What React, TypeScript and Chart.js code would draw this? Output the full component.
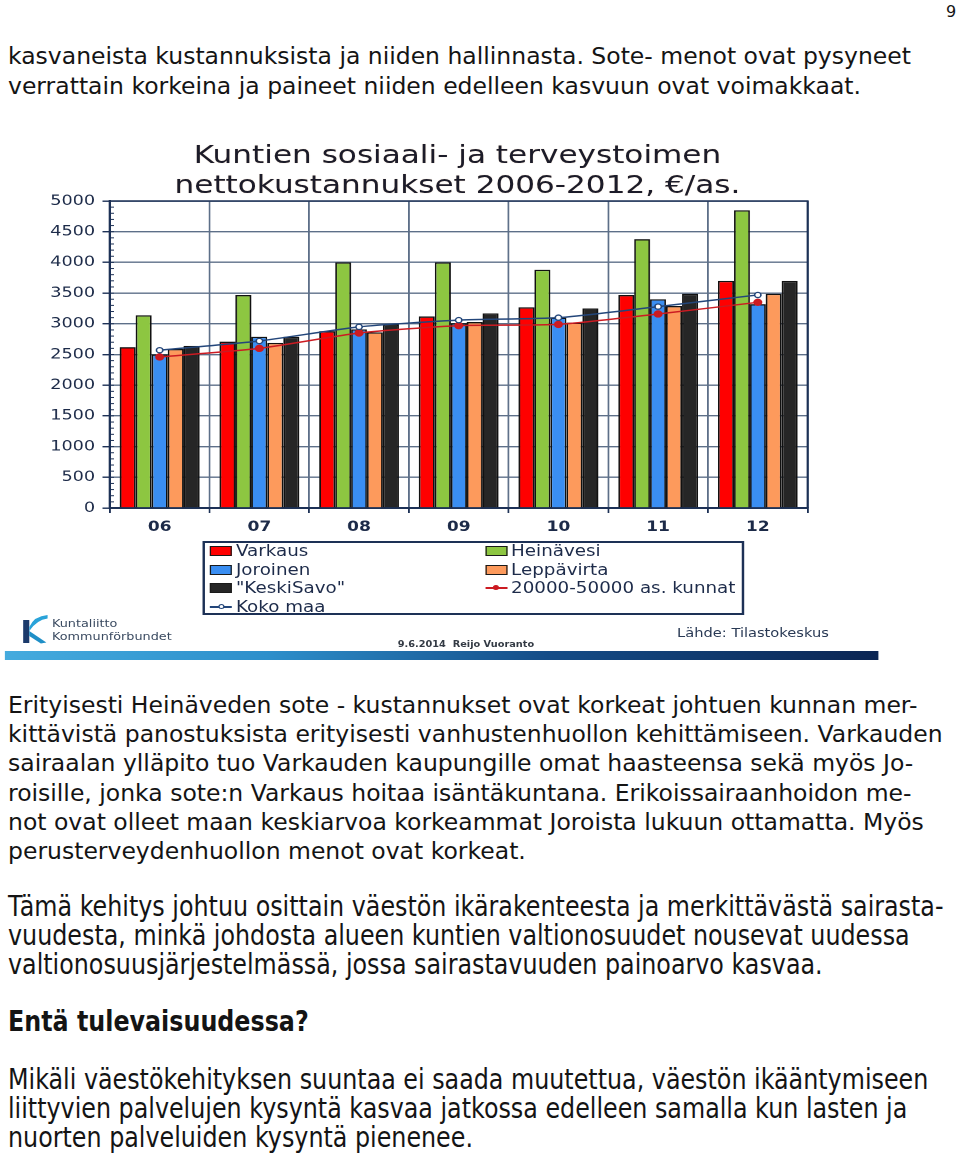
import React, { useEffect, useRef } from "react";
import { Chart, registerables } from "chart.js";

Chart.register(...registerables);

// ---- data ----
const years = ["06", "07", "08", "09", "10", "11", "12"];
const varkaus = [2620, 2710, 2880, 3120, 3270, 3470, 3700];
const heinavesi = [3140, 3470, 4000, 4000, 3880, 4380, 4850];
const joroinen = [2500, 2790, 2910, 3010, 3100, 3400, 3320];
const leppavirta = [2590, 2690, 2860, 3030, 3020, 3290, 3490];
const keskiSavo = [2640, 2790, 2990, 3170, 3250, 3490, 3700];
const kunnat20to50 = [2460, 2600, 2850, 2970, 2990, 3160, 3350];
const kokoMaa = [2570, 2720, 2950, 3060, 3100, 3280, 3470];
const yMin = 0;
const yMax = 5000;
const yStep = 500;
const yMinorStep = 100;

const seriesLabels = [
  "Varkaus",
  "Heinävesi",
  "Joroinen",
  "Leppävirta",
  '"KeskiSavo"',
  "20000-50000 as. kunnat",
  "Koko maa",
];
const seriesColors = ["#ff0000", "#8dc641", "#3a8ef2", "#fd9a5c", "#262626", "#cc1b22", "#23467a"];
const seriesKinds = ["bar", "bar", "bar", "bar", "bar", "line", "line"];
const seriesData = [varkaus, heinavesi, joroinen, leppavirta, keskiSavo, kunnat20to50, kokoMaa];

const titleLines = ["Kuntien sosiaali- ja terveystoimen", "nettokustannukset 2006-2012, €/as."];

// ---- style ----
const S = 1.22; // horizontal stretch of the chart picture
const FONT = '"DejaVu Sans", Verdana, sans-serif';
const axisColor = "#1d3156";
const gridColor = "#5d6f88";
const tickColor = "#1c2a48";

const minorTicksPlugin = {
  id: "minorTicks",
  afterDraw(chart: any) {
    const ys = chart.scales.y;
    const ctx = chart.ctx;
    const { left, top, right } = chart.chartArea;
    ctx.save();
    ctx.strokeStyle = axisColor;
    ctx.lineWidth = 1;
    for (let v = yMin; v <= yMax; v += yMinorStep) {
      const py = ys.getPixelForValue(v);
      ctx.beginPath();
      ctx.moveTo(left, py);
      ctx.lineTo(left + 3.5, py);
      ctx.stroke();
    }
    ctx.strokeStyle = axisColor;
    ctx.lineWidth = 1.6;
    ctx.beginPath();
    ctx.moveTo(left, top);
    ctx.lineTo(right, top);
    ctx.lineTo(right, chart.chartArea.bottom);
    ctx.stroke();
    ctx.restore();
  },
};

function ChartCanvas() {
  const ref = useRef<HTMLCanvasElement | null>(null);
  useEffect(() => {
    const canvas = ref.current;
    if (!canvas) return;
    const datasets: any[] = seriesData.map((d, i) => {
      if (seriesKinds[i] === "bar") {
        return {
          type: "bar",
          label: seriesLabels[i],
          data: d,
          backgroundColor: seriesColors[i],
          borderColor: "#111111",
          borderWidth: 1.4,
          order: 3,
          categoryPercentage: 0.8,
          barPercentage: 1.0,
        };
      }
      const isKoko = i === 6;
      return {
        type: "line",
        label: seriesLabels[i],
        data: d,
        borderColor: seriesColors[i],
        backgroundColor: seriesColors[i],
        borderWidth: 1.5,
        tension: 0.2,
        pointRadius: isKoko ? 2.6 : 3.2,
        pointBorderWidth: isKoko ? 1.3 : 1,
        pointBackgroundColor: isKoko ? "#ffffff" : seriesColors[i],
        pointBorderColor: seriesColors[i],
        order: isKoko ? 1 : 2,
      };
    });
    const chart = new Chart(canvas, {
      type: "bar",
      data: { labels: years, datasets },
      options: {
        animation: false,
        responsive: false,
        devicePixelRatio: 2,
        layout: { padding: { top: 66, right: 59, left: 0, bottom: 0 } },
        plugins: {
          legend: { display: false },
          tooltip: { enabled: false },
          title: { display: false },
        },
        scales: {
          x: {
            grid: { color: gridColor, lineWidth: 1.4, offset: true, tickLength: 5, tickColor: axisColor },
            border: { color: axisColor, width: 2 },
            ticks: { color: tickColor, font: { family: FONT, size: 14, weight: "bold" }, padding: 6 },
            afterFit: (s: any) => {
              s.height = 27;
            },
          },
          y: {
            min: yMin,
            max: yMax,
            grid: { color: gridColor, lineWidth: 1.4, tickLength: 6, tickColor: axisColor },
            border: { color: axisColor, width: 2 },
            ticks: {
              stepSize: yStep,
              color: tickColor,
              font: { family: FONT, size: 14.5 },
              padding: 6,
              callback: (v: any) => String(v),
            },
            afterFit: (s: any) => {
              s.width = 90;
            },
          },
        },
      } as any,
      plugins: [minorTicksPlugin],
    });
    return () => chart.destroy();
  }, []);
  return <canvas ref={ref} width={721} height={400} style={{ position: "absolute", left: 0, top: 0 }} />;
}

function Legend() {
  return (
    <div
      style={{
        position: "absolute",
        left: 166.4,
        top: 406,
        width: 444,
        height: 74,
        boxSizing: "border-box",
        border: `2px solid ${axisColor}`,
        background: "#ffffff",
      }}
    >
      {seriesLabels.map((lab, i) => {
        const row = Math.floor(i / 2);
        const col = i % 2;
        const isBar = seriesKinds[i] === "bar";
        return (
          <div
            key={lab}
            style={{
              position: "absolute",
              left: col === 0 ? 4 : 229.5,
              top: row * 18.5 - 1,
              height: 18.5,
              display: "flex",
              alignItems: "center",
              whiteSpace: "nowrap",
              font: `15px ${FONT}`,
              color: "#1d2b4a",
            }}
          >
            {isBar ? (
              <span
                style={{
                  display: "inline-block",
                  width: 18,
                  height: 10,
                  boxSizing: "border-box",
                  background: seriesColors[i],
                  border: "1.3px solid #1a1a1a",
                  marginRight: 3,
                }}
              />
            ) : (
              <span style={{ position: "relative", display: "inline-block", width: 18, height: 10, marginRight: 3 }}>
                <span
                  style={{
                    position: "absolute",
                    left: 0,
                    top: 4,
                    width: 18,
                    height: 2,
                    background: seriesColors[i],
                  }}
                />
                <span
                  style={{
                    position: "absolute",
                    left: 6.5,
                    top: 2,
                    width: 5,
                    height: 5,
                    borderRadius: "50%",
                    boxSizing: "border-box",
                    border: `1.3px solid ${seriesColors[i]}`,
                    background: i === 6 ? "#ffffff" : seriesColors[i],
                  }}
                />
              </span>
            )}
            {lab}
          </div>
        );
      })}
    </div>
  );
}

function ChartPicture() {
  return (
    <div
      style={{
        position: "absolute",
        left: 0,
        top: 135,
        width: 721,
        height: 530,
        transform: `scaleX(${S})`,
        transformOrigin: "0 0",
      }}
    >
      <div
        style={{
          position: "absolute",
          left: 0,
          top: 3.65,
          width: 750,
          textAlign: "center",
          font: `25.5px/30px ${FONT}`,
          color: "#1b1b29",
          whiteSpace: "nowrap",
          textShadow: "0 0 1px rgba(190,120,50,0.35)",
        }}
      >
        {titleLines.map((t) => (
          <div key={t}>{t}</div>
        ))}
      </div>
      <ChartCanvas />
      <Legend />
      <svg style={{ position: "absolute", left: 18, top: 479 }} width={22} height={30} viewBox="0 0 22 30">
        <rect x={1} y={6} width={5} height={23} fill="#1b3a6b" />
        <path d="M6 13 Q 10 2 21 1 L 21 4.5 Q 12 6 6 17 Z" fill="#2aa3d9" />
        <path d="M6 17 L 20 28.5 L 15.5 29.5 L 6 22 Z" fill="#1f8fc7" />
      </svg>
      <div
        style={{
          position: "absolute",
          left: 42.6,
          top: 482,
          font: `10.5px/13px ${FONT}`,
          color: "#3a4a60",
          whiteSpace: "nowrap",
        }}
      >
        <div>Kuntaliitto</div>
        <div>Kommunförbundet</div>
      </div>
      <div
        style={{
          position: "absolute",
          left: 326,
          top: 505,
          font: `bold 8px/10px ${FONT}`,
          color: "#333a44",
          whiteSpace: "pre",
        }}
      >
        {"9.6.2014  Reijo Vuoranto"}
      </div>
      <div
        style={{
          position: "absolute",
          left: 555,
          top: 491,
          font: `12px/14px ${FONT}`,
          color: "#2a3a55",
          whiteSpace: "nowrap",
        }}
      >
        Lähde: Tilastokeskus
      </div>
      <div
        style={{
          position: "absolute",
          left: 4.1,
          top: 516,
          width: 715.6,
          height: 9,
          background: "linear-gradient(to right, #45abde 0%, #2d8fcb 30%, #154d88 62%, #0b2553 100%)",
        }}
      />
    </div>
  );
}

const bodyText: React.CSSProperties = {
  position: "absolute",
  left: 8,
  font: `23.5px/29.3px ${FONT}`,
  color: "#141414",
  whiteSpace: "nowrap",
};

const condText: React.CSSProperties = {
  position: "absolute",
  left: 8,
  font: `28px/29px ${FONT}`,
  color: "#141414",
  whiteSpace: "nowrap",
  transform: "scaleX(0.85)",
  transformOrigin: "0 0",
};

export default function App() {
  return (
    <div
      style={{
        position: "fixed",
        left: 0,
        top: 0,
        width: 960,
        height: 1153,
        overflow: "hidden",
        background: "#ffffff",
      }}
    >
      <div style={{ position: "absolute", left: 946, top: 3.5, font: `16px/16px ${FONT}`, color: "#141414" }}>9</div>
      <div style={{ ...bodyText, top: 42.4 }}>
        kasvaneista kustannuksista ja niiden hallinnasta. Sote- menot ovat pysyneet
        <br />
        verrattain korkeina ja paineet niiden edelleen kasvuun ovat voimakkaat.
      </div>
      <ChartPicture />
      <div style={{ ...bodyText, top: 690.7 }}>
        Erityisesti Heinäveden sote - kustannukset ovat korkeat johtuen kunnan mer-
        <br />
        kittävistä panostuksista erityisesti vanhustenhuollon kehittämiseen. Varkauden
        <br />
        sairaalan ylläpito tuo Varkauden kaupungille omat haasteensa sekä myös Jo-
        <br />
        roisille, jonka sote:n Varkaus hoitaa isäntäkuntana. Erikoissairaanhoidon me-
        <br />
        not ovat olleet maan keskiarvoa korkeammat Joroista lukuun ottamatta. Myös
        <br />
        perusterveydenhuollon menot ovat korkeat.
      </div>
      <div style={{ ...condText, top: 891.8 }}>
        Tämä kehitys johtuu osittain väestön ikärakenteesta ja merkittävästä sairasta-
        <br />
        vuudesta, minkä johdosta alueen kuntien valtionosuudet nousevat uudessa
        <br />
        valtionosuusjärjestelmässä, jossa sairastavuuden painoarvo kasvaa.
      </div>
      <div style={{ ...condText, top: 1006.8, fontWeight: "bold" }}>Entä tulevaisuudessa?</div>
      <div style={{ ...condText, top: 1064.8 }}>
        Mikäli väestökehityksen suuntaa ei saada muutettua, väestön ikääntymiseen
        <br />
        liittyvien palvelujen kysyntä kasvaa jatkossa edelleen samalla kun lasten ja
        <br />
        nuorten palveluiden kysyntä pienenee.
      </div>
    </div>
  );
}
